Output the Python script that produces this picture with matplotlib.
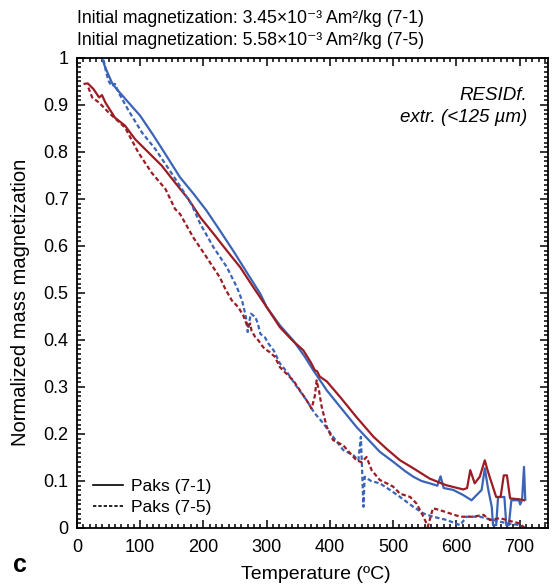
import matplotlib
matplotlib.use('Agg')
import matplotlib.pyplot as plt
from matplotlib.lines import Line2D
from matplotlib.ticker import MultipleLocator

plt.rcParams['font.family'] = ['Liberation Sans', 'DejaVu Sans']

# Paks (7-1), blue solid
t_b1 = [38, 45, 55, 62, 79, 100, 120, 140, 163, 185, 205, 225, 247, 268, 290, 300, 321, 342, 360, 374,
        395, 416, 442, 465, 479, 500, 520, 532, 545, 558, 570, 575, 580, 595, 611, 624, 632, 640, 645, 650,
        656, 658, 663, 666, 676, 679, 683, 687, 699, 701, 704, 707, 709]
m_b1 = [1.005, 0.979, 0.948, 0.935, 0.909, 0.877, 0.837, 0.795, 0.746, 0.71, 0.675, 0.635, 0.59, 0.545, 0.498, 0.47, 0.431, 0.399, 0.365, 0.335,
        0.293, 0.258, 0.215, 0.182, 0.162, 0.141, 0.12, 0.109, 0.1, 0.095, 0.09, 0.11, 0.085, 0.081, 0.07, 0.059, 0.07, 0.081, 0.127, 0.085,
        0.045, 0.006, 0.006, 0.066, 0.066, 0.006, 0.006, 0.059, 0.059, 0.05, 0.06, 0.13, 0.06]

# Paks (7-1), red solid
t_r1 = [12, 17, 26, 35, 39.5, 45, 60, 76, 92, 113, 134, 155, 176, 195, 216, 237, 258, 279, 300, 321,
        340, 358, 370, 376, 380, 384, 395, 416, 442, 469, 490, 511, 532, 558, 584, 611, 617, 622, 629, 637,
        645, 650, 656, 663, 670, 675, 680, 685, 700, 707]
m_r1 = [0.945, 0.946, 0.934, 0.916, 0.921, 0.905, 0.873, 0.856, 0.827, 0.799, 0.771, 0.735, 0.70, 0.661, 0.626, 0.59, 0.555, 0.512, 0.47, 0.427,
        0.40, 0.378, 0.352, 0.336, 0.333, 0.322, 0.312, 0.279, 0.236, 0.194, 0.168, 0.144, 0.127, 0.105, 0.091, 0.082, 0.085, 0.123, 0.095, 0.109,
        0.144, 0.12, 0.095, 0.066, 0.066, 0.112, 0.112, 0.063, 0.061, 0.059]

# Paks (7-5), blue dashed
t_b5 = [42, 46, 50, 55, 60, 66, 82, 103, 124, 145, 166, 182, 195, 216, 237, 253, 261, 266, 269, 270,
        272, 275, 282, 286, 290, 297, 303, 311, 321, 332, 348, 363, 376, 390, 405, 421, 437, 445, 449, 451,
        453, 455, 465, 479, 495, 511, 532, 548, 563, 585, 606, 616, 637, 658, 680, 700, 708]
m_b5 = [0.996, 0.97, 0.951, 0.94, 0.945, 0.926, 0.887, 0.841, 0.806, 0.764, 0.721, 0.686, 0.647, 0.597, 0.555, 0.512, 0.484, 0.456, 0.435, 0.417,
        0.435, 0.456, 0.449, 0.435, 0.413, 0.406, 0.392, 0.378, 0.35, 0.332, 0.30, 0.272, 0.244, 0.222, 0.194, 0.166, 0.155, 0.144, 0.194, 0.12,
        0.045, 0.109, 0.10, 0.095, 0.081, 0.066, 0.045, 0.031, 0.024, 0.017, 0.006, 0.024, 0.024, 0.017, 0.01, 0.006, 0.0]

# Paks (7-5), red dashed
t_r5 = [18, 24, 35, 50, 76, 97, 118, 140, 155, 163, 184, 205, 226, 234, 245, 255, 263, 267, 270, 274,
        276, 282, 287, 292, 297, 305, 313, 321, 342, 363, 371, 376, 379, 383, 387, 395, 405, 421, 432, 442,
        450, 458, 466, 479, 490, 500, 511, 527, 537, 548, 555, 563, 574, 590, 606, 627, 643, 653, 669, 690,
        700, 708]
m_r5 = [0.937, 0.916, 0.905, 0.884, 0.852, 0.799, 0.756, 0.721, 0.679, 0.668, 0.618, 0.576, 0.533, 0.51, 0.484, 0.47, 0.452, 0.438, 0.427, 0.435,
        0.42, 0.406, 0.399, 0.389, 0.381, 0.374, 0.364, 0.342, 0.314, 0.272, 0.254, 0.28, 0.314, 0.29, 0.258, 0.215, 0.187, 0.176, 0.159, 0.144,
        0.14, 0.151, 0.123, 0.102, 0.095, 0.088, 0.073, 0.066, 0.052, 0.024, 0.003, 0.042, 0.038, 0.031, 0.024, 0.024, 0.028, 0.017, 0.021, 0.013,
        0.01, 0.0]

labels = ['Paks (7-1)', 'Paks (7-5)']
header = ['Initial magnetization: 3.45×10⁻³ Am²/kg (7-1)',
          'Initial magnetization: 5.58×10⁻³ Am²/kg (7-5)']

blue = '#3b64b6'
red = '#9c1c24'
dash = (0, (2, 1.2))

fig = plt.figure(figsize=(5.52, 5.84), dpi=100)
ax = fig.add_axes([0.1395, 0.0959, 0.8533, 0.8048])

ax.plot(t_b1, m_b1, color=blue, lw=1.6)
ax.plot(t_r1, m_r1, color=red, lw=1.6)
ax.plot(t_b5, m_b5, color=blue, lw=1.6, linestyle=dash)
ax.plot(t_r5, m_r5, color=red, lw=1.6, linestyle=dash)

ax.set_xlim(0, 745)
ax.set_ylim(0, 1)
ax.xaxis.set_major_locator(MultipleLocator(100))
ax.xaxis.set_minor_locator(MultipleLocator(10))
ax.yaxis.set_minor_locator(MultipleLocator(0.01))
ax.set_yticks([i / 10 for i in range(11)])
ax.set_yticklabels(['0'] + ['0.%d' % i for i in range(1, 10)] + ['1'])

ax.tick_params(which='both', direction='in', top=True, right=True, width=1.1)
ax.tick_params(which='major', length=6, labelsize=13)
ax.tick_params(which='minor', length=3)
ax.tick_params(axis='x', pad=8)
ax.tick_params(axis='y', pad=6)
for s in ax.spines.values():
    s.set_linewidth(1.3)

ax.set_xlabel('Temperature (ºC)', fontsize=14)
ax.set_ylabel('Normalized mass magnetization', fontsize=14.5)
ax.xaxis.set_label_coords(0.507, -0.08)
ax.yaxis.set_label_coords(-0.10, 0.479)

handles = [Line2D([], [], color='black', lw=1.2),
           Line2D([], [], color='black', lw=1.2, linestyle=dash)]
ax.legend(handles, labels, loc='lower left', bbox_to_anchor=(0.0, -0.005), frameon=False,
          fontsize=12.5, handlelength=1.75, handletextpad=0.45, labelspacing=0.3)

ax.text(0.955, 0.921, 'RESIDf.', transform=ax.transAxes, ha='right', va='center',
        style='italic', fontsize=13.5)
ax.text(0.955, 0.874, 'extr. (<125 µm)', transform=ax.transAxes, ha='right', va='center',
        style='italic', fontsize=13.5)

fig.text(0.1395, 0.969, header[0], ha='left', va='center', fontsize=12.7)
fig.text(0.1395, 0.931, header[1], ha='left', va='center', fontsize=12.7)
fig.text(0.036, 0.032, 'c', ha='center', va='center', fontsize=18, fontweight='bold')

plt.savefig('out.png', dpi=100)
